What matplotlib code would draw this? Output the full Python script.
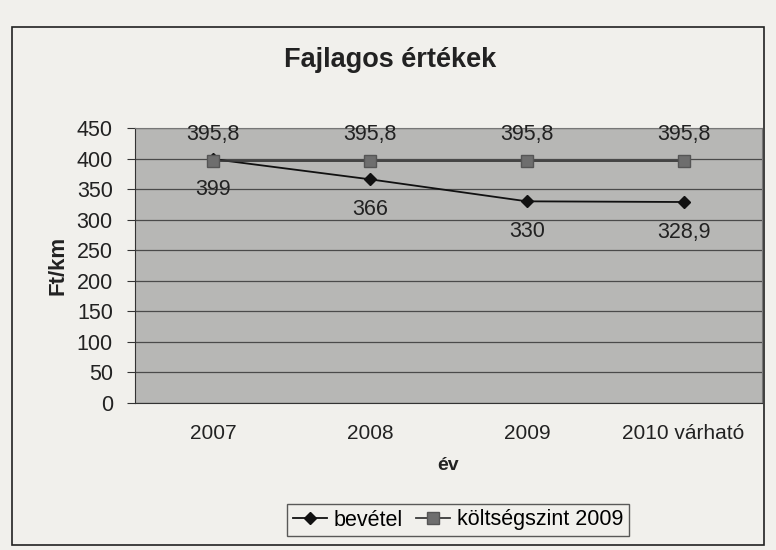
import matplotlib
matplotlib.use("Agg")
import matplotlib.pyplot as plt
from matplotlib.patches import Rectangle

categories = ["2007", "2008", "2009", "2010 várható"]
bevetel = [399, 366, 330, 328.9]
koltseg = [395.8, 395.8, 395.8, 395.8]
yticks = [0, 50, 100, 150, 200, 250, 300, 350, 400, 450]

plt.rcParams['font.family'] = ['Liberation Sans', 'DejaVu Sans']

fig = plt.figure(figsize=(7.76, 5.5), dpi=100)
fig.patch.set_facecolor('#f1f0ec')
fig.patches.append(Rectangle((12/776, 1-545/550), 752/776, 518/550, transform=fig.transFigure,
                             fill=False, edgecolor='#222222', linewidth=1.2))

ax = fig.add_axes([135/776, 1-403/550, 627/776, 275/550])
ax.set_facecolor('#b7b7b5')
x = list(range(len(categories)))
ax.plot(x, bevetel, color='#111111', marker='D', markersize=6, linewidth=1.3, label='bevétel')
ax.plot(x, koltseg, color='#3a3a3a', marker='s', markersize=8, markerfacecolor='#6e6e6e',
        markeredgecolor='#555555', linewidth=1.3, label='költségszint 2009')

for xi, v in zip(x, bevetel):
    ax.annotate(f"{v:g}".replace('.', ','), (xi, v), xytext=(0, -22), textcoords='offset points',
                ha='center', va='center', fontsize=15.5, color='#222222')
for xi, v in zip(x, koltseg):
    ax.annotate(f"{v:g}".replace('.', ','), (xi, v), xytext=(0, 19), textcoords='offset points',
                ha='center', va='center', fontsize=15.5, color='#222222')

ax.set_xlim(-0.5, len(categories) - 0.5)
ax.set_ylim(0, 450)
ax.set_yticks(yticks)
ax.set_yticklabels([str(t) for t in yticks], fontsize=15.5, color='#222222')
ax.set_xticks(x)
ax.set_xticklabels(categories, fontsize=15, color='#222222')
ax.tick_params(axis='x', length=0, pad=15)
ax.tick_params(axis='y', length=6, pad=10, color='#333333')
ax.grid(axis='y', color='#4a4a4a', linewidth=0.9)
ax.set_axisbelow(True)
for s in ['top', 'right']:
    ax.spines[s].set_color('#777777')
for s in ['left', 'bottom']:
    ax.spines[s].set_color('#333333')

ax.set_xlabel('év', fontsize=14, fontweight='bold', labelpad=10, color='#222222')
ax.set_ylabel('Ft/km', fontsize=16, fontweight='bold', labelpad=6, color='#222222')
fig.text(390/776, 1-60/550, 'Fajlagos értékek', ha='center', va='center', fontsize=19.5,
         fontweight='bold', color='#222222')

leg = fig.legend(loc='center', bbox_to_anchor=(458/776, 1-520/550), ncol=2, fontsize=15.5,
                 frameon=True, fancybox=False, edgecolor='#333333', facecolor='#f1f0ec',
                 handlelength=1.6, handletextpad=0.3, columnspacing=0.6, borderpad=0.25)
leg.get_frame().set_linewidth(1.0)

fig.savefig('out.png', dpi=100, facecolor=fig.get_facecolor())
